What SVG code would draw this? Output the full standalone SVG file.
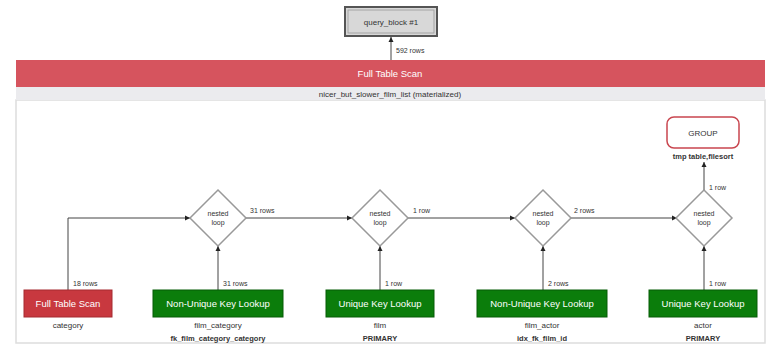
<svg xmlns="http://www.w3.org/2000/svg" width="769" height="351" viewBox="0 0 769 351">
<style>
text{font-family:"Liberation Sans",Arial,sans-serif;font-size:8px;fill:#333}
.w{fill:#fff;text-anchor:middle;font-size:9.5px}
.c{text-anchor:middle}
.t{font-size:8px}
.k{font-size:7.5px;font-weight:bold}
.r{font-size:7px}
.e{stroke:#444;stroke-width:1;fill:none}
.dia{fill:#fff;stroke:#999;stroke-width:1.5}
.grn{fill:#0b7d0b;stroke:#075c07}
</style>
<defs>
<marker id="ah" markerWidth="6" markerHeight="6" refX="5" refY="3" orient="auto" markerUnits="userSpaceOnUse">
<path d="M0,0.5 L5,3 L0,5.5 z" fill="#222"/>
</marker>
</defs>
<rect x="0" y="0" width="769" height="351" fill="#fff"/>
<g id="container">
<rect x="16" y="100" width="749" height="243" fill="#fff" stroke="#ddd" stroke-width="1.5"/>
<rect x="16" y="60" width="749" height="27" fill="#d6545e"/>
<text class="w" x="390" y="77">Full Table Scan</text>
<rect x="16" y="87" width="749" height="13" fill="#ebebee"/>
<text class="c" x="390" y="97" font-size="9">nicer_but_slower_film_list (materialized)</text>
</g>
<g id="edges">
<path class="e" d="M391,60 V37" marker-end="url(#ah)"/>
<text class="r" x="396" y="53">592 rows</text>
<path class="e" d="M68,290 V218 H190" marker-end="url(#ah)"/>
<text class="r" x="73" y="286">18 rows</text>
<path class="e" d="M218,290 V246" marker-end="url(#ah)"/>
<text class="r" x="223" y="286">31 rows</text>
<path class="e" d="M246,218 H352" marker-end="url(#ah)"/>
<text class="r" x="250" y="213">31 rows</text>
<path class="e" d="M380,290 V246" marker-end="url(#ah)"/>
<text class="r" x="385" y="286">1 row</text>
<path class="e" d="M408,218 H515" marker-end="url(#ah)"/>
<text class="r" x="413" y="213">1 row</text>
<path class="e" d="M543,290 V246" marker-end="url(#ah)"/>
<text class="r" x="548" y="286">2 rows</text>
<path class="e" d="M571,218 H677" marker-end="url(#ah)"/>
<text class="r" x="574" y="213">2 rows</text>
<path class="e" d="M704,290 V246" marker-end="url(#ah)"/>
<text class="r" x="709" y="286">1 row</text>
<path class="e" d="M704,190 V162" marker-end="url(#ah)"/>
<text class="r" x="709" y="190">1 row</text>
</g>
<g id="query_block">
<rect x="345" y="7" width="92" height="29" fill="#d8d8d8" stroke="#555" stroke-width="2"/>
<rect x="348" y="10" width="86" height="23" fill="none" stroke="#999" stroke-width="0.8"/>
<text class="c" x="391" y="25" font-size="9.5">query_block #1</text>
</g>
<g id="group">
<rect x="667" y="117" width="72" height="31" rx="7" fill="#fff" stroke="#c9464f" stroke-width="1.5"/>
<text class="c" x="703" y="136" font-size="10">GROUP</text>
<text class="c k" x="703" y="159">tmp table,filesort</text>
</g>
<g id="nl1"><polygon class="dia" points="218,190 246,218 218,246 190,218"/><text class="c r" x="218" y="216">nested</text><text class="c r" x="218" y="225">loop</text></g>
<g id="nl2"><polygon class="dia" points="380,190 408,218 380,246 352,218"/><text class="c r" x="380" y="216">nested</text><text class="c r" x="380" y="225">loop</text></g>
<g id="nl3"><polygon class="dia" points="543,190 571,218 543,246 515,218"/><text class="c r" x="543" y="216">nested</text><text class="c r" x="543" y="225">loop</text></g>
<g id="nl4"><polygon class="dia" points="704,190 732,218 704,246 676,218"/><text class="c r" x="704" y="216">nested</text><text class="c r" x="704" y="225">loop</text></g>
<g id="scan_category">
<rect x="24" y="290" width="88" height="27" fill="#c8383f" stroke="#a52a30"/>
<text class="w" x="68" y="307">Full Table Scan</text>
<text class="c t" x="68" y="328">category</text>
</g>
<g id="lookup_film_category">
<rect class="grn" x="153" y="290" width="130" height="27"/>
<text class="w" x="218" y="307">Non-Unique Key Lookup</text>
<text class="c t" x="218" y="328">film_category</text>
<text class="c k" x="218" y="341">fk_film_category_category</text>
</g>
<g id="lookup_film">
<rect class="grn" x="326" y="290" width="108" height="27"/>
<text class="w" x="380" y="307">Unique Key Lookup</text>
<text class="c t" x="380" y="328">film</text>
<text class="c k" x="380" y="341">PRIMARY</text>
</g>
<g id="lookup_film_actor">
<rect class="grn" x="477" y="290" width="130" height="27"/>
<text class="w" x="542" y="307">Non-Unique Key Lookup</text>
<text class="c t" x="542" y="328">film_actor</text>
<text class="c k" x="542" y="341">idx_fk_film_id</text>
</g>
<g id="lookup_actor">
<rect class="grn" x="649" y="290" width="108" height="27"/>
<text class="w" x="703" y="307">Unique Key Lookup</text>
<text class="c t" x="703" y="328">actor</text>
<text class="c k" x="703" y="341">PRIMARY</text>
</g>
</svg>
